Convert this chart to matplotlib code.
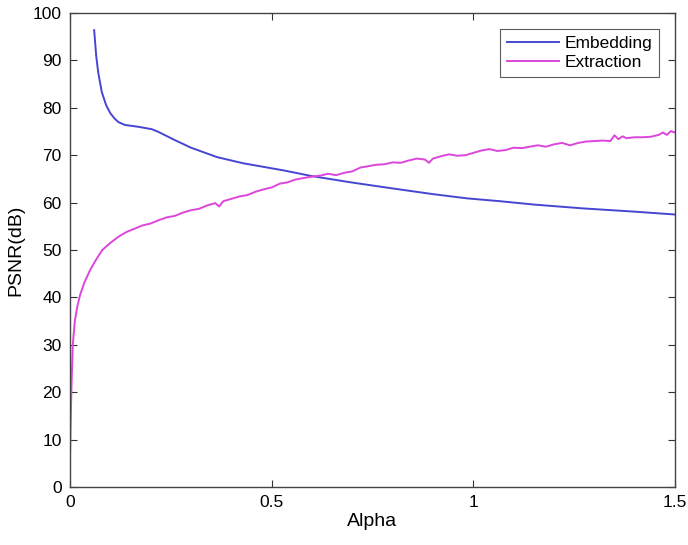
import matplotlib
matplotlib.use("Agg")
import matplotlib.pyplot as plt

# Embedding PSNR against the strength factor alpha
emb_alpha = [0.06, 0.065, 0.07, 0.079, 0.09, 0.10, 0.11, 0.12, 0.136, 0.17,
             0.203, 0.22, 0.26, 0.30, 0.365, 0.43, 0.53, 0.60, 0.695, 0.80,
             0.90, 0.985, 1.067, 1.15, 1.27, 1.40, 1.50]
emb_psnr = [96.4, 91.0, 87.5, 83.3, 80.5, 78.9, 77.8, 77.0, 76.4, 76.0,
            75.5, 74.9, 73.2, 71.6, 69.6, 68.3, 66.8, 65.6, 64.3, 63.0,
            61.8, 60.9, 60.3, 59.6, 58.8, 58.1, 57.5]

# Extraction PSNR against alpha
ext_alpha = [0.0, 0.002, 0.004, 0.007, 0.012, 0.018, 0.025, 0.035, 0.05, 0.065,
             0.08, 0.10, 0.12, 0.14, 0.16, 0.18,
             0.20, 0.22, 0.24, 0.26, 0.28, 0.30, 0.32, 0.34, 0.36, 0.37,
             0.38, 0.40, 0.42, 0.44, 0.46, 0.48, 0.50, 0.52, 0.54, 0.56,
             0.58, 0.60, 0.62, 0.64, 0.66, 0.68, 0.70, 0.72, 0.74, 0.76,
             0.78, 0.80, 0.82, 0.84, 0.86, 0.88, 0.89, 0.90, 0.92, 0.94,
             0.96, 0.98, 1.00, 1.02, 1.04, 1.06, 1.08, 1.10, 1.12, 1.14,
             1.16, 1.18, 1.20, 1.22, 1.24, 1.26, 1.28, 1.30, 1.32, 1.34,
             1.35, 1.36, 1.37, 1.38, 1.40, 1.42, 1.44, 1.46, 1.47, 1.48,
             1.49, 1.50]
ext_psnr = [6.0, 15.0, 22.0, 30.0, 35.0, 38.0, 40.5, 43.0, 45.8, 48.0,
            50.0, 51.5, 52.8, 53.8, 54.5, 55.2,
            55.6, 56.3, 56.9, 57.2, 57.9, 58.4, 58.7, 59.4, 59.9, 59.2,
            60.3, 60.8, 61.3, 61.6, 62.3, 62.8, 63.2, 64.0, 64.3, 64.9,
            65.2, 65.5, 65.7, 66.1, 65.8, 66.3, 66.6, 67.4, 67.7, 68.0,
            68.1, 68.5, 68.4, 68.9, 69.3, 69.1, 68.4, 69.3, 69.8, 70.2,
            69.9, 70.0, 70.5, 71.0, 71.3, 70.9, 71.1, 71.6, 71.5, 71.8,
            72.1, 71.8, 72.3, 72.6, 72.1, 72.6, 72.9, 73.0, 73.1, 73.0,
            74.2, 73.4, 74.0, 73.6, 73.8, 73.8, 73.9, 74.3, 74.8, 74.3,
            75.1, 74.8]

x_ticks = [0, 0.5, 1, 1.5]
x_tick_labels = ["0", "0.5", "1", "1.5"]
y_ticks = list(range(0, 101, 10))

plt.rcParams["font.family"] = ["Liberation Sans", "DejaVu Sans"]

fig = plt.figure(figsize=(6.88, 5.45), dpi=100)
ax = fig.add_axes([0.1017, 0.1064, 0.8793, 0.8696])

ax.plot(emb_alpha, emb_psnr, color="#4646d2", lw=1.4, label="Embedding")
ax.plot(ext_alpha, ext_psnr, color="#dc46dc", lw=1.4, label="Extraction")

ax.set_xlim(0, 1.5)
ax.set_ylim(0, 100)
ax.set_xticks(x_ticks)
ax.set_xticklabels(x_tick_labels)
ax.set_yticks(y_ticks)
ax.tick_params(direction="in", length=5, width=0.8, top=True, right=True,
               labelsize=12.5, pad=6, color="#333333")
for s in ax.spines.values():
    s.set_color("#444444")
    s.set_linewidth(1.0)

ax.set_xlabel("Alpha", fontsize=14, labelpad=2)
ax.set_ylabel("PSNR(dB)", fontsize=14, labelpad=6)

leg = ax.legend(loc="upper right", fontsize=12.5, frameon=True, fancybox=False,
                edgecolor="#333333", handlelength=3.0, handletextpad=0.3,
                borderpad=0.4, labelspacing=0.25, borderaxespad=0.9)
leg.get_frame().set_linewidth(0.8)

fig.savefig("out.png", dpi=100)
